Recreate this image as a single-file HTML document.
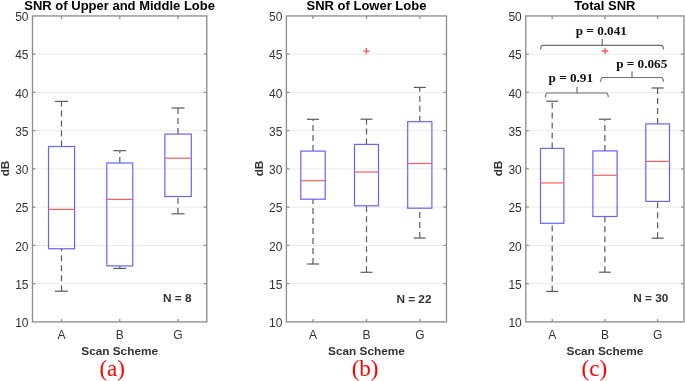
<!DOCTYPE html>
<html><head><meta charset="utf-8"><style>
html,body{margin:0;padding:0;background:#fff;}
body{width:685px;height:381px;overflow:hidden;}
svg{display:block;filter:blur(0.3px);}
.tl{font-family:"Liberation Sans",sans-serif;font-size:12px;fill:#333333;}
.lb{font-family:"Liberation Sans",sans-serif;font-size:11.8px;font-weight:bold;fill:#333333;}
.tt{font-family:"Liberation Sans",sans-serif;font-size:13px;font-weight:bold;fill:#000;}
.pl{font-family:"Liberation Serif",serif;font-size:24px;fill:#ff0000;}
.pv{font-family:"Liberation Serif",serif;font-size:13.2px;font-weight:bold;fill:#111;}
</style></head><body>
<svg width="685" height="381" viewBox="0 0 685 381">
<rect width="685" height="381" fill="#fff"/>
<line x1="32.5" y1="283.66" x2="206.8" y2="283.66" stroke="#ebebeb" stroke-width="1"/>
<line x1="32.5" y1="245.41" x2="206.8" y2="245.41" stroke="#ebebeb" stroke-width="1"/>
<line x1="32.5" y1="207.17" x2="206.8" y2="207.17" stroke="#ebebeb" stroke-width="1"/>
<line x1="32.5" y1="168.92" x2="206.8" y2="168.92" stroke="#ebebeb" stroke-width="1"/>
<line x1="32.5" y1="130.68" x2="206.8" y2="130.68" stroke="#ebebeb" stroke-width="1"/>
<line x1="32.5" y1="92.44" x2="206.8" y2="92.44" stroke="#ebebeb" stroke-width="1"/>
<line x1="32.5" y1="54.19" x2="206.8" y2="54.19" stroke="#ebebeb" stroke-width="1"/>
<line x1="61.5" y1="146.5" x2="61.5" y2="101.4" stroke="#5a5a5a" stroke-width="1.2" stroke-dasharray="6 4"/>
<line x1="61.5" y1="291.2" x2="61.5" y2="248.75" stroke="#5a5a5a" stroke-width="1.2" stroke-dasharray="6 4"/>
<line x1="55.0" y1="101.4" x2="68.0" y2="101.4" stroke="#5a5a5a" stroke-width="1.2"/>
<line x1="55.0" y1="291.2" x2="68.0" y2="291.2" stroke="#5a5a5a" stroke-width="1.2"/>
<rect x="48.5" y="146.5" width="26.10" height="102.25" fill="none" stroke="#6464ff" stroke-width="1.2"/>
<line x1="48.5" y1="209.4" x2="74.6" y2="209.4" stroke="#ff5c5c" stroke-width="1.2"/>
<line x1="119.8" y1="163.0" x2="119.8" y2="150.7" stroke="#5a5a5a" stroke-width="1.2" stroke-dasharray="6 4"/>
<line x1="119.8" y1="268.4" x2="119.8" y2="265.9" stroke="#5a5a5a" stroke-width="1.2" stroke-dasharray="6 4"/>
<line x1="113.3" y1="150.7" x2="126.3" y2="150.7" stroke="#5a5a5a" stroke-width="1.2"/>
<line x1="113.3" y1="268.4" x2="126.3" y2="268.4" stroke="#5a5a5a" stroke-width="1.2"/>
<rect x="106.8" y="163.0" width="25.95" height="102.90" fill="none" stroke="#6464ff" stroke-width="1.2"/>
<line x1="106.8" y1="199.4" x2="132.75" y2="199.4" stroke="#ff5c5c" stroke-width="1.2"/>
<line x1="178.0" y1="134.1" x2="178.0" y2="108.0" stroke="#5a5a5a" stroke-width="1.2" stroke-dasharray="6 4"/>
<line x1="178.0" y1="213.8" x2="178.0" y2="196.5" stroke="#5a5a5a" stroke-width="1.2" stroke-dasharray="6 4"/>
<line x1="171.5" y1="108.0" x2="184.5" y2="108.0" stroke="#5a5a5a" stroke-width="1.2"/>
<line x1="171.5" y1="213.8" x2="184.5" y2="213.8" stroke="#5a5a5a" stroke-width="1.2"/>
<rect x="164.9" y="134.1" width="26.40" height="62.40" fill="none" stroke="#6464ff" stroke-width="1.2"/>
<line x1="164.9" y1="158.2" x2="191.3" y2="158.2" stroke="#ff5c5c" stroke-width="1.2"/>
<rect x="32.5" y="15.95" width="174.30" height="305.95" fill="none" stroke="#8e8e8e" stroke-width="1.35"/>
<path d="M32.5 283.66h3M206.8 283.66h-3M32.5 245.41h3M206.8 245.41h-3M32.5 207.17h3M206.8 207.17h-3M32.5 168.92h3M206.8 168.92h-3M32.5 130.68h3M206.8 130.68h-3M32.5 92.44h3M206.8 92.44h-3M32.5 54.19h3M206.8 54.19h-3M61.5 15.95v3M61.5 321.9v-3M119.8 15.95v3M119.8 321.9v-3M178.0 15.95v3M178.0 321.9v-3" stroke="#8e8e8e" stroke-width="1.3" fill="none"/>
<text x="28.5" y="327.10" text-anchor="end" class="tl">10</text>
<text x="28.5" y="288.86" text-anchor="end" class="tl">15</text>
<text x="28.5" y="250.61" text-anchor="end" class="tl">20</text>
<text x="28.5" y="212.37" text-anchor="end" class="tl">25</text>
<text x="28.5" y="174.12" text-anchor="end" class="tl">30</text>
<text x="28.5" y="135.88" text-anchor="end" class="tl">35</text>
<text x="28.5" y="97.64" text-anchor="end" class="tl">40</text>
<text x="28.5" y="59.39" text-anchor="end" class="tl">45</text>
<text x="28.5" y="21.15" text-anchor="end" class="tl">50</text>
<text x="61.5" y="338.6" text-anchor="middle" class="tl">A</text>
<text x="119.8" y="338.6" text-anchor="middle" class="tl">B</text>
<text x="178.0" y="338.6" text-anchor="middle" class="tl">G</text>
<text x="119.65" y="354.7" text-anchor="middle" class="lb">Scan Scheme</text>
<text x="119.65" y="10.2" text-anchor="middle" class="tt">SNR of Upper and Middle Lobe</text>
<text transform="translate(8.9 168.5) rotate(-90)" text-anchor="middle" class="lb">dB</text>
<text x="191.5" y="301.5" text-anchor="end" class="lb">N = 8</text>
<text transform="translate(112.2 376.0) scale(0.96 1)" text-anchor="middle" class="pl">(a)</text>
<line x1="286.4" y1="283.66" x2="446.5" y2="283.66" stroke="#ebebeb" stroke-width="1"/>
<line x1="286.4" y1="245.41" x2="446.5" y2="245.41" stroke="#ebebeb" stroke-width="1"/>
<line x1="286.4" y1="207.17" x2="446.5" y2="207.17" stroke="#ebebeb" stroke-width="1"/>
<line x1="286.4" y1="168.92" x2="446.5" y2="168.92" stroke="#ebebeb" stroke-width="1"/>
<line x1="286.4" y1="130.68" x2="446.5" y2="130.68" stroke="#ebebeb" stroke-width="1"/>
<line x1="286.4" y1="92.44" x2="446.5" y2="92.44" stroke="#ebebeb" stroke-width="1"/>
<line x1="286.4" y1="54.19" x2="446.5" y2="54.19" stroke="#ebebeb" stroke-width="1"/>
<line x1="313.0" y1="151.1" x2="313.0" y2="119.3" stroke="#5a5a5a" stroke-width="1.2" stroke-dasharray="6 4"/>
<line x1="313.0" y1="264.0" x2="313.0" y2="199.2" stroke="#5a5a5a" stroke-width="1.2" stroke-dasharray="6 4"/>
<line x1="307.0" y1="119.3" x2="319.0" y2="119.3" stroke="#5a5a5a" stroke-width="1.2"/>
<line x1="307.0" y1="264.0" x2="319.0" y2="264.0" stroke="#5a5a5a" stroke-width="1.2"/>
<rect x="300.8" y="151.1" width="24.40" height="48.10" fill="none" stroke="#6464ff" stroke-width="1.2"/>
<line x1="300.8" y1="180.7" x2="325.2" y2="180.7" stroke="#ff5c5c" stroke-width="1.2"/>
<line x1="366.5" y1="144.4" x2="366.5" y2="119.2" stroke="#5a5a5a" stroke-width="1.2" stroke-dasharray="6 4"/>
<line x1="366.5" y1="272.3" x2="366.5" y2="205.8" stroke="#5a5a5a" stroke-width="1.2" stroke-dasharray="6 4"/>
<line x1="360.5" y1="119.2" x2="372.5" y2="119.2" stroke="#5a5a5a" stroke-width="1.2"/>
<line x1="360.5" y1="272.3" x2="372.5" y2="272.3" stroke="#5a5a5a" stroke-width="1.2"/>
<rect x="354.5" y="144.4" width="24.00" height="61.40" fill="none" stroke="#6464ff" stroke-width="1.2"/>
<line x1="354.5" y1="172.0" x2="378.5" y2="172.0" stroke="#ff5c5c" stroke-width="1.2"/>
<line x1="419.8" y1="121.7" x2="419.8" y2="87.4" stroke="#5a5a5a" stroke-width="1.2" stroke-dasharray="6 4"/>
<line x1="419.8" y1="238.0" x2="419.8" y2="208.2" stroke="#5a5a5a" stroke-width="1.2" stroke-dasharray="6 4"/>
<line x1="413.8" y1="87.4" x2="425.8" y2="87.4" stroke="#5a5a5a" stroke-width="1.2"/>
<line x1="413.8" y1="238.0" x2="425.8" y2="238.0" stroke="#5a5a5a" stroke-width="1.2"/>
<rect x="407.7" y="121.7" width="24.20" height="86.50" fill="none" stroke="#6464ff" stroke-width="1.2"/>
<line x1="407.7" y1="163.5" x2="431.9" y2="163.5" stroke="#ff5c5c" stroke-width="1.2"/>
<path d="M363.2 51.1H369.59999999999997M366.4 48.1V54.1" stroke="#ff5252" stroke-width="1.35" fill="none"/>
<rect x="286.4" y="15.95" width="160.10" height="305.95" fill="none" stroke="#8e8e8e" stroke-width="1.35"/>
<path d="M286.4 283.66h3M446.5 283.66h-3M286.4 245.41h3M446.5 245.41h-3M286.4 207.17h3M446.5 207.17h-3M286.4 168.92h3M446.5 168.92h-3M286.4 130.68h3M446.5 130.68h-3M286.4 92.44h3M446.5 92.44h-3M286.4 54.19h3M446.5 54.19h-3M313.0 15.95v3M313.0 321.9v-3M366.5 15.95v3M366.5 321.9v-3M419.8 15.95v3M419.8 321.9v-3" stroke="#8e8e8e" stroke-width="1.3" fill="none"/>
<text x="282.4" y="327.10" text-anchor="end" class="tl">10</text>
<text x="282.4" y="288.86" text-anchor="end" class="tl">15</text>
<text x="282.4" y="250.61" text-anchor="end" class="tl">20</text>
<text x="282.4" y="212.37" text-anchor="end" class="tl">25</text>
<text x="282.4" y="174.12" text-anchor="end" class="tl">30</text>
<text x="282.4" y="135.88" text-anchor="end" class="tl">35</text>
<text x="282.4" y="97.64" text-anchor="end" class="tl">40</text>
<text x="282.4" y="59.39" text-anchor="end" class="tl">45</text>
<text x="282.4" y="21.15" text-anchor="end" class="tl">50</text>
<text x="313.0" y="338.6" text-anchor="middle" class="tl">A</text>
<text x="366.5" y="338.6" text-anchor="middle" class="tl">B</text>
<text x="419.8" y="338.6" text-anchor="middle" class="tl">G</text>
<text x="366.45" y="354.7" text-anchor="middle" class="lb">Scan Scheme</text>
<text x="366.45" y="10.2" text-anchor="middle" class="tt">SNR of Lower Lobe</text>
<text transform="translate(263.0 168.5) rotate(-90)" text-anchor="middle" class="lb">dB</text>
<text x="431.5" y="302.5" text-anchor="end" class="lb">N = 22</text>
<text transform="translate(365.1 376.0) scale(0.96 1)" text-anchor="middle" class="pl">(b)</text>
<line x1="525.8" y1="283.66" x2="684.0" y2="283.66" stroke="#ebebeb" stroke-width="1"/>
<line x1="525.8" y1="245.41" x2="684.0" y2="245.41" stroke="#ebebeb" stroke-width="1"/>
<line x1="525.8" y1="207.17" x2="684.0" y2="207.17" stroke="#ebebeb" stroke-width="1"/>
<line x1="525.8" y1="168.92" x2="684.0" y2="168.92" stroke="#ebebeb" stroke-width="1"/>
<line x1="525.8" y1="130.68" x2="684.0" y2="130.68" stroke="#ebebeb" stroke-width="1"/>
<line x1="525.8" y1="92.44" x2="684.0" y2="92.44" stroke="#ebebeb" stroke-width="1"/>
<line x1="525.8" y1="54.19" x2="684.0" y2="54.19" stroke="#ebebeb" stroke-width="1"/>
<line x1="552.2" y1="148.4" x2="552.2" y2="101.2" stroke="#5a5a5a" stroke-width="1.2" stroke-dasharray="6 4"/>
<line x1="552.2" y1="291.4" x2="552.2" y2="223.3" stroke="#5a5a5a" stroke-width="1.2" stroke-dasharray="6 4"/>
<line x1="546.2" y1="101.2" x2="558.2" y2="101.2" stroke="#5a5a5a" stroke-width="1.2"/>
<line x1="546.2" y1="291.4" x2="558.2" y2="291.4" stroke="#5a5a5a" stroke-width="1.2"/>
<rect x="540.5" y="148.4" width="23.40" height="74.90" fill="none" stroke="#6464ff" stroke-width="1.2"/>
<line x1="540.5" y1="182.9" x2="563.9" y2="182.9" stroke="#ff5c5c" stroke-width="1.2"/>
<line x1="604.9" y1="150.9" x2="604.9" y2="119.2" stroke="#5a5a5a" stroke-width="1.2" stroke-dasharray="6 4"/>
<line x1="604.9" y1="272.2" x2="604.9" y2="216.5" stroke="#5a5a5a" stroke-width="1.2" stroke-dasharray="6 4"/>
<line x1="598.9" y1="119.2" x2="610.9" y2="119.2" stroke="#5a5a5a" stroke-width="1.2"/>
<line x1="598.9" y1="272.2" x2="610.9" y2="272.2" stroke="#5a5a5a" stroke-width="1.2"/>
<rect x="592.9" y="150.9" width="24.20" height="65.60" fill="none" stroke="#6464ff" stroke-width="1.2"/>
<line x1="592.9" y1="175.3" x2="617.1" y2="175.3" stroke="#ff5c5c" stroke-width="1.2"/>
<line x1="657.6" y1="123.9" x2="657.6" y2="88.0" stroke="#5a5a5a" stroke-width="1.2" stroke-dasharray="6 4"/>
<line x1="657.6" y1="238.2" x2="657.6" y2="201.4" stroke="#5a5a5a" stroke-width="1.2" stroke-dasharray="6 4"/>
<line x1="651.6" y1="88.0" x2="663.6" y2="88.0" stroke="#5a5a5a" stroke-width="1.2"/>
<line x1="651.6" y1="238.2" x2="663.6" y2="238.2" stroke="#5a5a5a" stroke-width="1.2"/>
<rect x="645.8" y="123.9" width="23.70" height="77.50" fill="none" stroke="#6464ff" stroke-width="1.2"/>
<line x1="645.8" y1="161.4" x2="669.5" y2="161.4" stroke="#ff5c5c" stroke-width="1.2"/>
<path d="M601.9 51.0H608.3000000000001M605.1 48.0V54.0" stroke="#ff5252" stroke-width="1.35" fill="none"/>
<rect x="525.8" y="15.95" width="158.20" height="305.95" fill="none" stroke="#8e8e8e" stroke-width="1.35"/>
<path d="M525.8 283.66h3M684.0 283.66h-3M525.8 245.41h3M684.0 245.41h-3M525.8 207.17h3M684.0 207.17h-3M525.8 168.92h3M684.0 168.92h-3M525.8 130.68h3M684.0 130.68h-3M525.8 92.44h3M684.0 92.44h-3M525.8 54.19h3M684.0 54.19h-3M552.2 15.95v3M552.2 321.9v-3M604.9 15.95v3M604.9 321.9v-3M657.6 15.95v3M657.6 321.9v-3" stroke="#8e8e8e" stroke-width="1.3" fill="none"/>
<text x="521.8" y="327.10" text-anchor="end" class="tl">10</text>
<text x="521.8" y="288.86" text-anchor="end" class="tl">15</text>
<text x="521.8" y="250.61" text-anchor="end" class="tl">20</text>
<text x="521.8" y="212.37" text-anchor="end" class="tl">25</text>
<text x="521.8" y="174.12" text-anchor="end" class="tl">30</text>
<text x="521.8" y="135.88" text-anchor="end" class="tl">35</text>
<text x="521.8" y="97.64" text-anchor="end" class="tl">40</text>
<text x="521.8" y="59.39" text-anchor="end" class="tl">45</text>
<text x="521.8" y="21.15" text-anchor="end" class="tl">50</text>
<text x="552.2" y="338.6" text-anchor="middle" class="tl">A</text>
<text x="604.9" y="338.6" text-anchor="middle" class="tl">B</text>
<text x="657.6" y="338.6" text-anchor="middle" class="tl">G</text>
<text x="604.90" y="354.7" text-anchor="middle" class="lb">Scan Scheme</text>
<text x="604.90" y="10.2" text-anchor="middle" class="tt">Total SNR</text>
<text transform="translate(501.8 168.5) rotate(-90)" text-anchor="middle" class="lb">dB</text>
<text x="668.3" y="302.2" text-anchor="end" class="lb">N = 30</text>
<text transform="translate(594.4 376.0) scale(0.96 1)" text-anchor="middle" class="pl">(c)</text>
<path d="M545.3 97.2Q545.8 93.0 547.3 93.0H606.3Q608.0 93.0 608.3 97.2M577.0 93.0V87.0" stroke="#6e6e6e" stroke-width="1.2" fill="none"/>
<path d="M600.5 81.7Q601.0 77.5 602.5 77.5H661.4Q663.1 77.5 663.4 81.7M632.0 77.5V71.5" stroke="#6e6e6e" stroke-width="1.2" fill="none"/>
<path d="M540.5 49.5Q541.0 45.3 542.5 45.3H661.5Q663.2 45.3 663.5 49.5M602.2 45.3V38.8" stroke="#6e6e6e" stroke-width="1.2" fill="none"/>
<text x="570.8" y="81.6" text-anchor="middle" class="pv">p = 0.91</text>
<text x="641.7" y="67.7" text-anchor="middle" class="pv">p = 0.065</text>
<text x="601.3" y="34.7" text-anchor="middle" class="pv">p = 0.041</text>
</svg>
</body></html>
